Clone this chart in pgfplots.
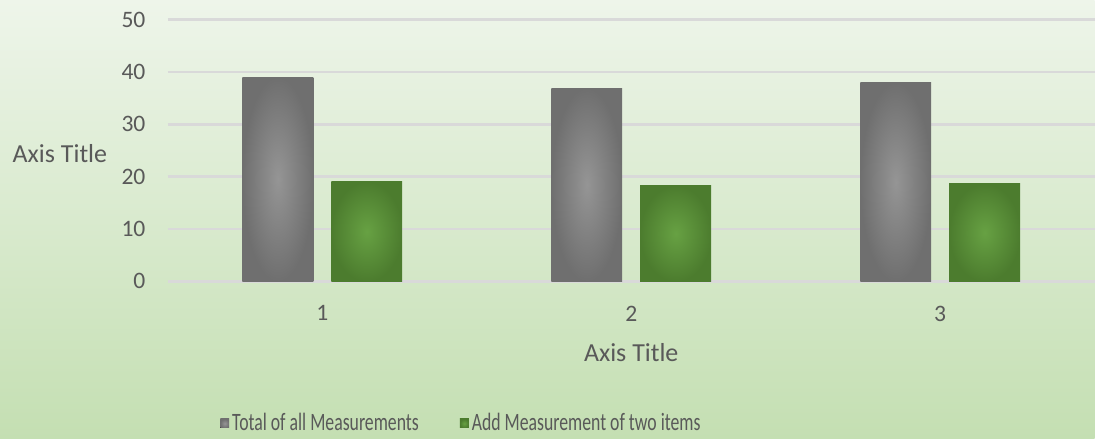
\documentclass[border=0pt]{standalone}
\usepackage{graphicx}
\usepackage{pgfplots}
\pgfplotsset{compat=1.18}
\usepackage{fontspec}
\setmainfont{Carlito}
\definecolor{txt}{HTML}{595959}
\definecolor{gridc}{HTML}{D9D9D9}
\definecolor{bgtop}{HTML}{EEF5EA}
\definecolor{bgbot}{HTML}{C4DFB2}
\definecolor{grayin}{HTML}{959595}
\definecolor{grayout}{HTML}{6F6F6F}
\definecolor{greenin}{HTML}{67A143}
\definecolor{greenout}{HTML}{4C7C2E}
\begin{document}
\begin{tikzpicture}
\shade[top color=bgtop, bottom color=bgbot] (0,0) rectangle (548pt,219.5pt);
\begin{axis}[
  at={(84pt,78.65pt)}, anchor=south west,
  scale only axis, width=464pt, height=131.1pt,
  xmin=0.5, xmax=3.5, ymin=0, ymax=50,
  ytick={0,10,20,30,40,50}, xtick={1,2,3},
  ybar, bar width=35.5pt,
  axis line style={draw=none}, major tick length=0pt,
  ymajorgrids, grid style={gridc, line width=1.35pt},
  clip=false,
  tick label style={font=\fontsize{11.8pt}{14pt}\selectfont, text=txt},
  /pgf/number format/assume math mode=true,
  xticklabel style={inner sep=0pt, anchor=north, yshift=-12pt},
  yticklabel style={inner sep=0pt, anchor=east, xshift=-11pt},
  xlabel={Axis Title}, ylabel={Axis Title},
  xlabel style={at={(axis description cs:0.5,-0.272)}, anchor=center, font=\fontsize{13pt}{15pt}\selectfont, text=txt},
  ylabel style={rotate=-90, at={(axis description cs:-0.1164,0.487)}, anchor=center, font=\fontsize{13pt}{15pt}\selectfont, text=txt},
  legend image code/.code={\fill[#1] (0pt,-2.25pt) rectangle (4.5pt,2.25pt);},
  legend style={draw=none, fill=none, at={(axis description cs:0.3173,-0.5427)}, anchor=center,
    legend columns=2, font=\fontsize{12.5pt}{14pt}\selectfont, text=txt,
    nodes={inner sep=1.5pt},
    /tikz/every even column/.append style={column sep=19pt}},
  legend cell align=left,
  grayb/.style={draw=none, inner color=grayin, outer color=grayout, bar shift=-22.25pt},
  greenb/.style={draw=none, inner color=greenin, outer color=greenout, bar shift=22.25pt},
]
\addplot[grayb] coordinates {(1,39.0)};
\addlegendentry{\scalebox{0.71}[1]{Total of all Measurements}}
\addplot[greenb] coordinates {(1,19.0)};
\addlegendentry{\scalebox{0.71}[1]{Add Measurement of two items}}
\addplot[grayb, forget plot] coordinates {(2,36.9)};
\addplot[grayb, forget plot] coordinates {(3,37.9)};
\addplot[greenb, forget plot] coordinates {(2,18.25)};
\addplot[greenb, forget plot] coordinates {(3,18.6)};
\end{axis}
\end{tikzpicture}
\end{document}
